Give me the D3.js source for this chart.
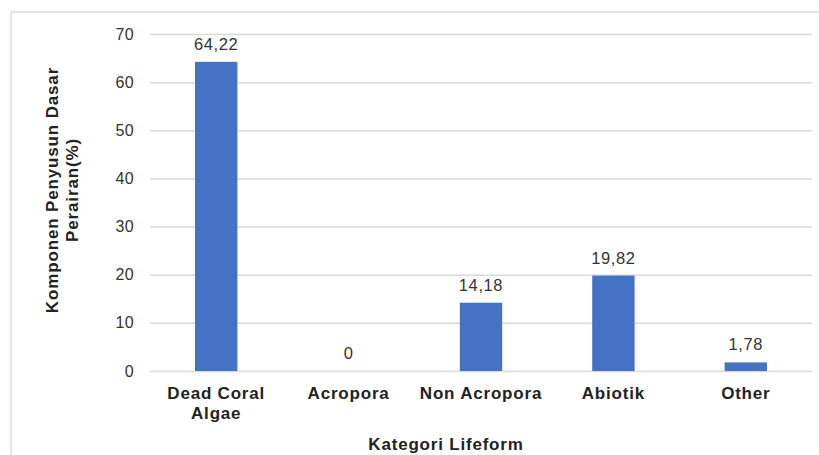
<!DOCTYPE html>
<html>
<head>
<meta charset="utf-8">
<script src="https://cdn.jsdelivr.net/npm/d3@7"></script>
<style>
  html, body { margin: 0; padding: 0; background: #fff; }
  svg { display: block; font-family: "Liberation Sans", Arial, sans-serif; }
</style>
</head>
<body>
<svg id="chart" width="819" height="455"></svg>
<script>
// Lifeform categories and their share of the seabed cover (%)
const categories = ["Dead Coral\nAlgae", "Acropora", "Non Acropora", "Abiotik", "Other"];
const values = [64.22, 0, 14.18, 19.82, 1.78];
const valueLabels = ["64,22", "0", "14,18", "19,82", "1,78"];
const yTicks = [0, 10, 20, 30, 40, 50, 60, 70];

const svg = d3.select("#chart");
const plot = { left: 150, right: 812, top: 34, bottom: 371 };

// outer frame
svg.append("rect")
  .attr("x", 11).attr("y", 12)
  .attr("width", 830).attr("height", 470)
  .attr("fill", "none")
  .attr("stroke", "#e3e3e3")
  .attr("stroke-width", 2);

const x = d3.scaleBand()
  .domain(categories)
  .range([plot.left, plot.right])
  .paddingInner(0.68)
  .paddingOuter(0.34);

const y = d3.scaleLinear()
  .domain([0, 70])
  .range([plot.bottom, plot.top]);

// gridlines + y tick labels
const yAxis = d3.axisLeft(y)
  .tickValues(yTicks)
  .tickSize(-(plot.right - plot.left))
  .tickPadding(16)
  .tickFormat(d3.format("d"));

const gy = svg.append("g")
  .attr("transform", `translate(${plot.left},0)`)
  .call(yAxis);
gy.select(".domain").remove();
gy.selectAll(".tick line")
  .attr("stroke", "#d9d9d9")
  .attr("stroke-width", 1.5);
gy.selectAll(".tick text")
  .attr("fill", "#333")
  .style("font-size", "16px")
  .style("letter-spacing", "0.3px");

// bars
svg.append("g").selectAll("rect")
  .data(values)
  .join("rect")
  .attr("x", (d, i) => x(categories[i]))
  .attr("width", x.bandwidth())
  .attr("y", d => y(d))
  .attr("height", d => y(0) - y(d))
  .attr("fill", "#4472c4");

// value labels
svg.append("g").selectAll("text")
  .data(values)
  .join("text")
  .attr("x", (d, i) => x(categories[i]) + x.bandwidth() / 2)
  .attr("y", d => y(d) - 12)
  .attr("text-anchor", "middle")
  .attr("fill", "#333")
  .style("font-size", "16.5px")
  .style("letter-spacing", "0.6px")
  .text((d, i) => valueLabels[i]);

// category labels
const xl = svg.append("g").selectAll("text")
  .data(categories)
  .join("text")
  .attr("x", d => x(d) + x.bandwidth() / 2)
  .attr("y", 399)
  .attr("text-anchor", "middle")
  .attr("fill", "#222")
  .style("font-size", "17px")
  .style("font-weight", "bold")
  .style("letter-spacing", "0.8px");
xl.each(function(d) {
  const lines = d.split("\n");
  d3.select(this).selectAll("tspan")
    .data(lines)
    .join("tspan")
    .attr("x", d3.select(this).attr("x"))
    .attr("dy", (l, i) => i === 0 ? 0 : 20)
    .text(l => l);
});

// axis titles
svg.append("text")
  .attr("x", 446).attr("y", 450)
  .attr("text-anchor", "middle")
  .attr("fill", "#222")
  .style("font-size", "17px")
  .style("font-weight", "bold")
  .style("letter-spacing", "0.8px")
  .text("Kategori Lifeform");

const yt = svg.append("text")
  .attr("transform", "translate(58,190) rotate(-90)")
  .attr("text-anchor", "middle")
  .attr("fill", "#222")
  .style("font-size", "17px")
  .style("font-weight", "bold")
  .style("letter-spacing", "0.85px");
yt.append("tspan").attr("x", 0).attr("dy", 0).text("Komponen Penyusun Dasar");
yt.append("tspan").attr("x", 0).attr("dy", 20).text("Perairan(%)");
</script>
</body>
</html>
